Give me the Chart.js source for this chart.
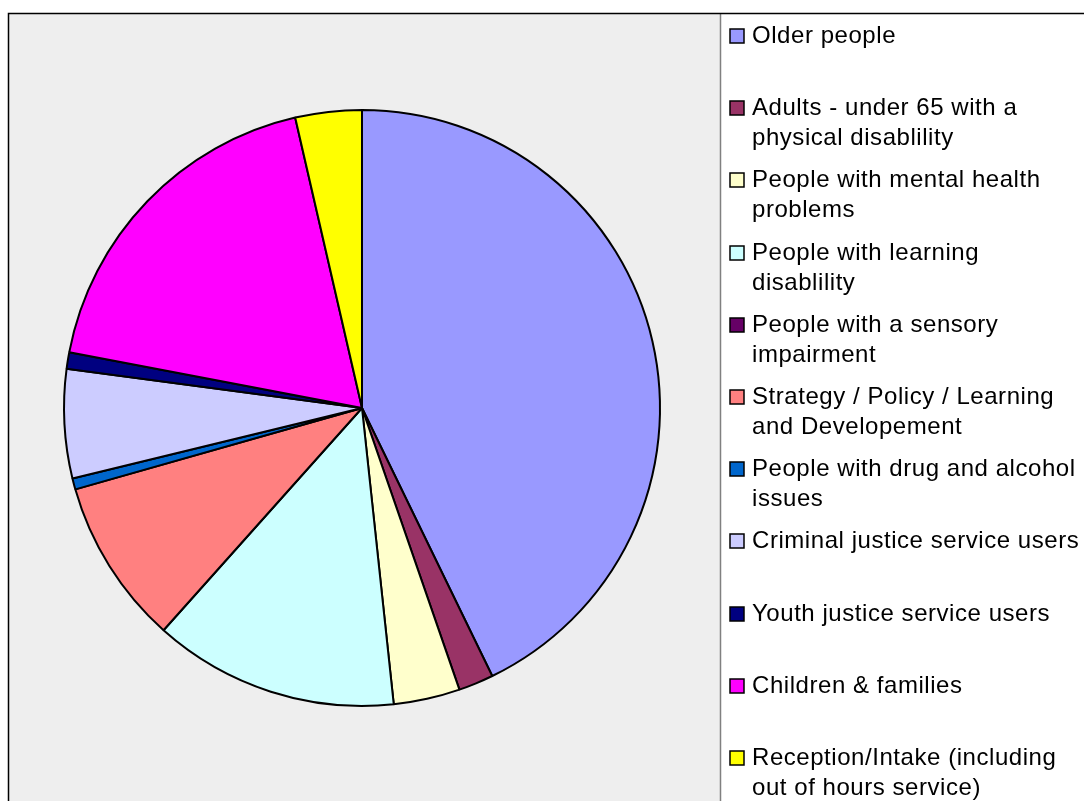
<!DOCTYPE html>
<html>
<head>
<meta charset="utf-8">
<title>Service user groups</title>
<script src="https://cdn.jsdelivr.net/npm/chart.js@4.4.0/dist/chart.umd.min.js"></script>
<style>
  html, body { margin: 0; padding: 0; background: #fff; }
</style>
</head>
<body>
<canvas id="services" width="1084" height="801"></canvas>
<script>
// service user groups, legend text already split onto lines
var categories = [
    ['Older people'],
    ['Adults - under 65 with a', 'physical disablility'],
    ['People with mental health', 'problems'],
    ['People with learning', 'disablility'],
    ['People with a sensory', 'impairment'],
    ['Strategy / Policy / Learning', 'and Developement'],
    ['People with drug and alcohol', 'issues'],
    ['Criminal justice service users'],
    ['Youth justice service users'],
    ['Children & families'],
    ['Reception/Intake (including', 'out of hours service)']
];
var shares = [42.8, 1.9, 3.6, 13.3, 0, 9.0, 0.6, 5.9, 0.9, 18.4, 3.6];
var sliceColours = [
    '#9999FF', '#993366', '#FFFFCC', '#CCFFFF', '#660066', '#FF8080',
    '#0066CC', '#CCCCFF', '#000080', '#FF00FF', '#FFFF00'
];

// grey plot area, white legend panel and the frame lines
var framePlugin = {
    id: 'frame',
    beforeDraw: function(chart) {
        var ctx = chart.ctx;
        ctx.save();
        ctx.fillStyle = '#FFFFFF';
        ctx.fillRect(0, 0, chart.width, chart.height);
        ctx.fillStyle = '#EEEEEE';
        ctx.fillRect(9, 14, 711, chart.height - 14);
        ctx.strokeStyle = '#808080';
        ctx.lineWidth = 1.5;
        ctx.beginPath();
        ctx.moveTo(720.5, 14);
        ctx.lineTo(720.5, chart.height);
        ctx.stroke();
        ctx.strokeStyle = '#000000';
        ctx.lineWidth = 1.5;
        ctx.beginPath();
        ctx.moveTo(8.5, chart.height);
        ctx.lineTo(8.5, 13.5);
        ctx.lineTo(chart.width, 13.5);
        ctx.stroke();
        ctx.restore();
    }
};

// legend on the right with evenly spaced, wrapped entries
var sideLegend = {
    id: 'sideLegend',
    afterDraw: function(chart) {
        var ctx = chart.ctx;
        var labels = chart.data.labels;
        var colours = chart.data.datasets[0].backgroundColor;
        ctx.save();
        ctx.font = '24px "Liberation Sans", Arial, sans-serif';
        if ('letterSpacing' in ctx) ctx.letterSpacing = '0.55px';
        ctx.textBaseline = 'alphabetic';
        ctx.textAlign = 'left';
        labels.forEach(function(lines, i) {
            var base = Math.round(43 + i * 72.2);
            ctx.fillStyle = colours[i];
            ctx.fillRect(730, base - 14, 14, 14);
            ctx.strokeStyle = '#000000';
            ctx.lineWidth = 1.5;
            ctx.strokeRect(730, base - 14, 14, 14);
            ctx.fillStyle = '#000000';
            lines.forEach(function(t, j) {
                ctx.fillText(t, 752, base + j * 30);
            });
        });
        ctx.restore();
    }
};

new Chart(document.getElementById('services').getContext('2d'), {
    type: 'pie',
    data: {
        labels: categories,
        datasets: [{
            data: shares,
            backgroundColor: sliceColours,
            borderColor: '#000000',
            borderWidth: 2
        }]
    },
    options: {
        responsive: false,
        animation: false,
        radius: 298,
        layout: {
            padding: { left: 62, right: 422, top: 108, bottom: 93 }
        },
        plugins: {
            legend: { display: false },
            tooltip: { enabled: false }
        }
    },
    plugins: [framePlugin, sideLegend]
});
</script>
</body>
</html>
